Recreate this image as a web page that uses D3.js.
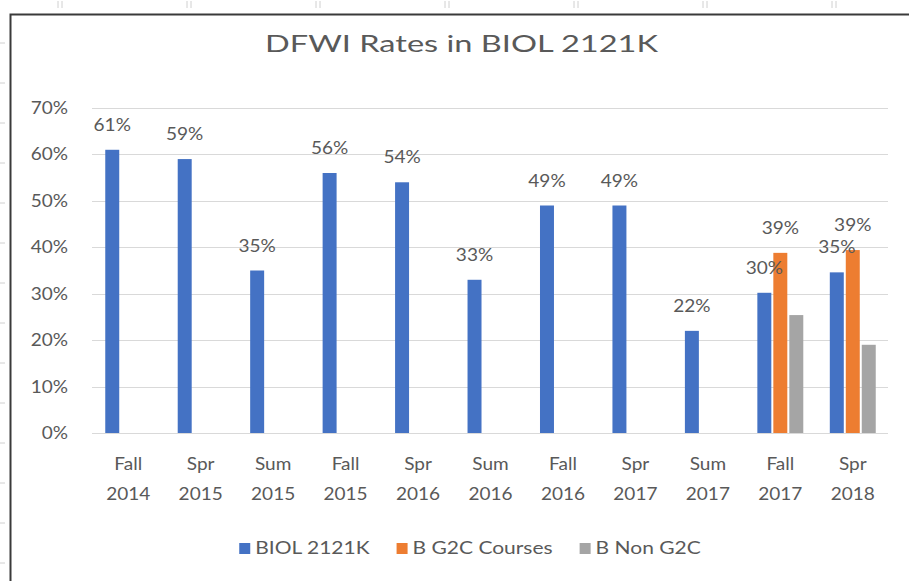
<!DOCTYPE html>
<html><head><meta charset="utf-8">
<script src="https://cdn.jsdelivr.net/npm/d3@7"></script>
<style>html,body{margin:0;padding:0;background:#fff}svg{display:block}</style>
</head><body>
<script>
// ---- data ----
const categories = ["Fall 2014","Spr 2015","Sum 2015","Fall 2015","Spr 2016","Sum 2016","Fall 2016","Spr 2017","Sum 2017","Fall 2017","Spr 2018"];
const seriesNames = ["BIOL 2121K","B G2C Courses","B Non G2C"];
const biol2121k = [0.61,0.59,0.35,0.56,0.54,0.33,0.49,0.49,0.22,0.302,0.346];
const bG2C      = [null,null,null,null,null,null,null,null,null,0.388,0.394];
const bNonG2C   = [null,null,null,null,null,null,null,null,null,0.254,0.19];
const yTicks = [0,0.1,0.2,0.3,0.4,0.5,0.6,0.7];
const titleText = "DFWI Rates in BIOL 2121K";

const seriesValues = [biol2121k, bG2C, bNonG2C];
const seriesColors = ["#4472C4","#ED7D31","#A5A5A5"];
const seriesLabeled = [true,true,false];

const W = 909, H = 581;
const FONT = "Lato, 'Open Sans', sans-serif";
const TXT = "#595959";
const SX = 1.12;

const svg = d3.select("body").append("svg").attr("width",W).attr("height",H);
svg.append("rect").attr("width",W).attr("height",H).attr("fill","#fff");

// faint ruler marks outside frame
const rul = svg.append("g").attr("stroke","#d0d0d0").attr("stroke-width",1);
d3.range(58, W, 129).forEach(x=>{
  rul.append("line").attr("x1",x).attr("x2",x).attr("y1",1).attr("y2",8);
  rul.append("line").attr("x1",x+4).attr("x2",x+4).attr("y1",1).attr("y2",8);
});
d3.range(43, H, 40).forEach(y=>{
  rul.append("line").attr("x1",0).attr("x2",5).attr("y1",y).attr("y2",y);
});

// frame
svg.append("path").attr("d",`M10.5,${H} V14.5 H${W}`).attr("fill","none")
  .attr("stroke","#3a3a3a").attr("stroke-width",2);

// scales
const y = d3.scaleLinear().domain([0,0.7]).range([433,108]);
const x = d3.scaleBand().domain(categories).range([92,889]).paddingInner(0.366).paddingOuter(0.183);
const xs = d3.scaleBand().domain(seriesNames).range([0,x.bandwidth()]).paddingInner(0.125);

function stxt(g, tx, ty, s, anchor, size, sx){
  return g.append("text").attr("transform",`translate(${tx},${ty}) scale(${sx||SX},1)`)
    .attr("text-anchor",anchor).attr("font-family",FONT).attr("font-size",size)
    .attr("fill",TXT).text(s);
}

// title
svg.append("text").attr("x",461.5).attr("y",52).attr("text-anchor","middle")
  .attr("font-family",FONT).attr("font-size",23).attr("fill",TXT)
  .attr("textLength",393).attr("lengthAdjust","spacingAndGlyphs").text(titleText);

// gridlines + y labels
const grid = svg.append("g");
yTicks.forEach(t=>{
  grid.append("line").attr("x1",92).attr("x2",888)
    .attr("y1",Math.round(y(t))+0.5).attr("y2",Math.round(y(t))+0.5)
    .attr("stroke","#d9d9d9").attr("stroke-width",1);
  stxt(grid, 68, y(t)+6, d3.format(".0%")(t), "end", 17);
});

// bars
const bars = svg.append("g");
const labels = svg.append("g");
seriesValues.forEach((vals, si)=>{
  const data = categories.map((c,i)=>({c, v: vals[i]})).filter(d=>d.v!=null);
  bars.selectAll(null).data(data).enter().append("rect")
    .attr("x", d=>x(d.c)+xs(seriesNames[si]))
    .attr("width", xs.bandwidth())
    .attr("y", d=>y(d.v))
    .attr("height", d=>y(0)-y(d.v))
    .attr("fill", seriesColors[si]);
  if (seriesLabeled[si]) {
    data.forEach(d=>{
      stxt(labels, x(d.c)+xs(seriesNames[si])+xs.bandwidth()/2, y(d.v)-19, d3.format(".0%")(d.v), "middle", 17);
    });
  }
});

// x labels
const xl = svg.append("g");
categories.forEach(c=>{
  const parts = c.split(" ");
  const cx = x(c)+x.bandwidth()/2;
  stxt(xl, cx, 470, parts[0], "middle", 17);
  stxt(xl, cx, 500, parts[1], "middle", 17);
});

// legend
const LSX = 1.2;
const leg = svg.append("g");
const items = seriesNames.map((n,i)=>{
  const g = leg.append("g");
  g.append("rect").attr("x",0).attr("y",-5).attr("width",11).attr("height",11).attr("fill",seriesColors[i]);
  const t = stxt(g, 16, 6, n, "start", 17.5, LSX);
  const w = 16 + t.node().getComputedTextLength()*LSX;
  return {g, w};
});
const gap = 27;
const total = d3.sum(items, d=>d.w) + gap*(items.length-1);
let lx = 470 - total/2;
items.forEach(it=>{ it.g.attr("transform",`translate(${lx},548)`); lx += it.w + gap; });
</script>
</body></html>
